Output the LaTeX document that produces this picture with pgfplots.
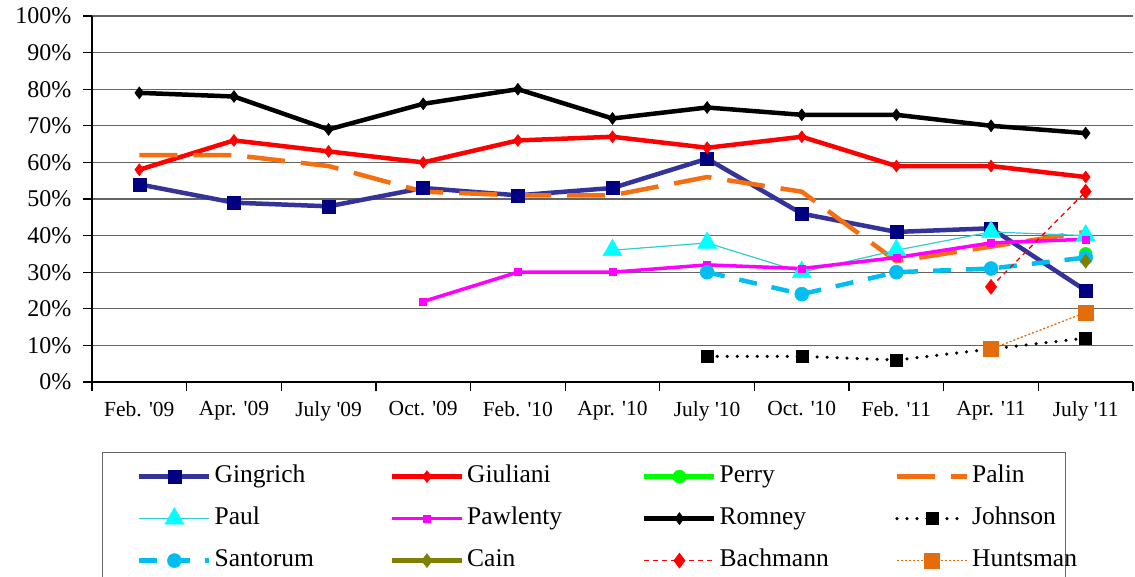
\documentclass[border=0pt]{standalone}
\usepackage{fontspec}
\setmainfont{Liberation Serif}[Ligatures=TeXOff]
\usepackage{pgfplots}
\pgfplotsset{compat=1.18}

\definecolor{gingline}{RGB}{51,51,153}
\definecolor{gingmark}{RGB}{0,0,128}
\definecolor{perry}{RGB}{0,255,0}
\definecolor{palin}{RGB}{245,110,15}
\definecolor{paulline}{RGB}{51,204,204}
\definecolor{paulmark}{RGB}{0,255,255}
\definecolor{santorum}{RGB}{0,190,240}
\definecolor{cain}{RGB}{128,128,0}
\definecolor{hunts}{RGB}{228,108,10}
\definecolor{pawl}{RGB}{255,0,255}
\definecolor{gridc}{RGB}{100,100,100}

\begin{document}
\begin{tikzpicture}[x=1pt,y=1pt]
\useasboundingbox (0,0) rectangle (1135,577);
\begin{axis}[
  at={(92pt,195pt)}, anchor=south west,
  width=1041pt, height=366pt, scale only axis,
  xmin=-0.5, xmax=10.5, ymin=0, ymax=100,
  axis x line*=bottom, axis y line*=left,
  axis line style={black, line width=1.2pt, -},
  tick align=outside,
  major tick length=9pt,
  tick style={black, line width=1.2pt},
  ytick={0,10,20,30,40,50,60,70,80,90,100},
  yticklabel={\pgfmathprintnumber{\tick}\%},
  y tick label style={font=\rmfamily\fontsize{24}{26}\selectfont, xshift=-8pt},
  /pgf/number format/assume math mode=true,
  ymajorgrids, grid style={gridc, line width=1.3pt},
  xtick={-0.5,0.5,1.5,2.5,3.5,4.5,5.5,6.5,7.5,8.5,9.5,10.5},
  xticklabels={},
  extra x ticks={0,1,2,3,4,5,6,7,8,9,10},
  extra x tick labels={Feb. '09,Apr. '09,July '09,Oct. '09,Feb. '10,Apr. '10,July '10,Oct. '10,Feb. '11,Apr. '11,July '11},
  extra x tick style={major tick length=0pt, grid=none},
  x tick label style={font=\rmfamily\fontsize{21.5}{23}\selectfont, yshift=-16pt},
  legend columns=4,
  legend cell align=left,
  legend image code/.code={\draw[mark repeat=2,mark phase=2] plot coordinates {(0pt,0pt)(35pt,0pt)(70pt,0pt)};},
  legend style={at={(0.0096,-0.191)}, anchor=north west, draw=gridc,
    font=\rmfamily\fontsize{25.5}{26}\selectfont, inner xsep=35pt, inner ysep=13pt,
    column sep=0pt, row sep=19pt,
    nodes={inner xsep=3pt, inner ysep=0pt, text height=17pt, text depth=6pt}},
]
% Gingrich
\addplot[gingline, line width=4.5pt, mark=square*, mark size=6.5pt, mark options={gingmark, fill=gingmark, line width=0.5pt}]
  coordinates {(0,54)(1,49)(2,48)(3,53)(4,51)(5,53)(6,61)(7,46)(8,41)(9,42)(10,25)};
\addlegendentry{\makebox[172pt][l]{Gingrich}}
% Giuliani
\addplot[red, line width=4.5pt, mark=diamond*, mark size=6pt, mark options={red, line width=0.5pt}]
  coordinates {(0,58)(1,66)(2,63)(3,60)(4,66)(5,67)(6,64)(7,67)(8,59)(9,59)(10,56)};
\addlegendentry{\makebox[172pt][l]{Giuliani}}
% Perry
\addplot[perry, line width=4.5pt, mark=*, mark size=6.5pt, mark options={perry, line width=0.5pt}]
  coordinates {(10,35)};
\addlegendentry{\makebox[172pt][l]{Perry}}
% Palin
\addplot[palin, line width=4.5pt, dash pattern=on 38pt off 16pt]
  coordinates {(0,62)(1,62)(2,59)(3,52)(4,51)(5,51)(6,56)(7,52)(8,33)(9,37)(10,41)};
\addlegendentry{\makebox[55pt][l]{Palin}}
% Paul
\addplot[paulline, line width=1.2pt, mark=triangle*, mark size=11pt, mark options={paulmark, fill=paulmark, line width=0.5pt}]
  coordinates {(5,36)(6,38)(7,30)(8,36)(9,41)(10,40)};
\addlegendentry{\makebox[172pt][l]{Paul}}
% Pawlenty
\addplot[pawl, line width=3.5pt, mark=square*, mark size=3.5pt, mark options={pawl, line width=0.5pt}]
  coordinates {(3,22)(4,30)(5,30)(6,32)(7,31)(8,34)(9,38)(10,39)};
\addlegendentry{\makebox[172pt][l]{Pawlenty}}
% Romney
\addplot[black, line width=4.5pt, mark=diamond*, mark size=6pt, mark options={black, line width=0.5pt}]
  coordinates {(0,79)(1,78)(2,69)(3,76)(4,80)(5,72)(6,75)(7,73)(8,73)(9,70)(10,68)};
\addlegendentry{\makebox[172pt][l]{Romney}}
% Johnson
\addplot[black, line width=3.5pt, line cap=round, dash pattern=on 0pt off 10pt, mark=square*, mark size=6pt, mark options={black, solid, line width=0.5pt}]
  coordinates {(6,7)(7,7)(8,6)(9,9)(10,12)};
\addlegendentry{\makebox[55pt][l]{Johnson}}
% Santorum
\addplot[santorum, line width=4.5pt, dash pattern=on 18pt off 15pt, mark=*, mark size=7pt, mark options={santorum, solid, line width=0.5pt}]
  coordinates {(6,30)(7,24)(8,30)(9,31)(10,34)};
\addlegendentry{\makebox[172pt][l]{Santorum}}
% Cain
\addplot[cain, line width=4.5pt, mark=diamond*, mark size=7pt, mark options={cain, line width=0.5pt}]
  coordinates {(10,33)};
\addlegendentry{\makebox[172pt][l]{Cain}}
% Bachmann
\addplot[red, line width=1.3pt, dash pattern=on 5pt off 4pt, mark=diamond*, mark size=7.5pt, mark options={red, solid, line width=0.5pt}]
  coordinates {(9,26)(10,52)};
\addlegendentry{\makebox[172pt][l]{Bachmann}}
% Huntsman
\addplot[hunts, line width=1.3pt, dash pattern=on 2pt off 2pt, mark=square*, mark size=7.5pt, mark options={hunts, solid, line width=0.5pt}]
  coordinates {(9,9)(10,19)};
\addlegendentry{\makebox[55pt][l]{Huntsman}}
\end{axis}
\end{tikzpicture}
\end{document}
